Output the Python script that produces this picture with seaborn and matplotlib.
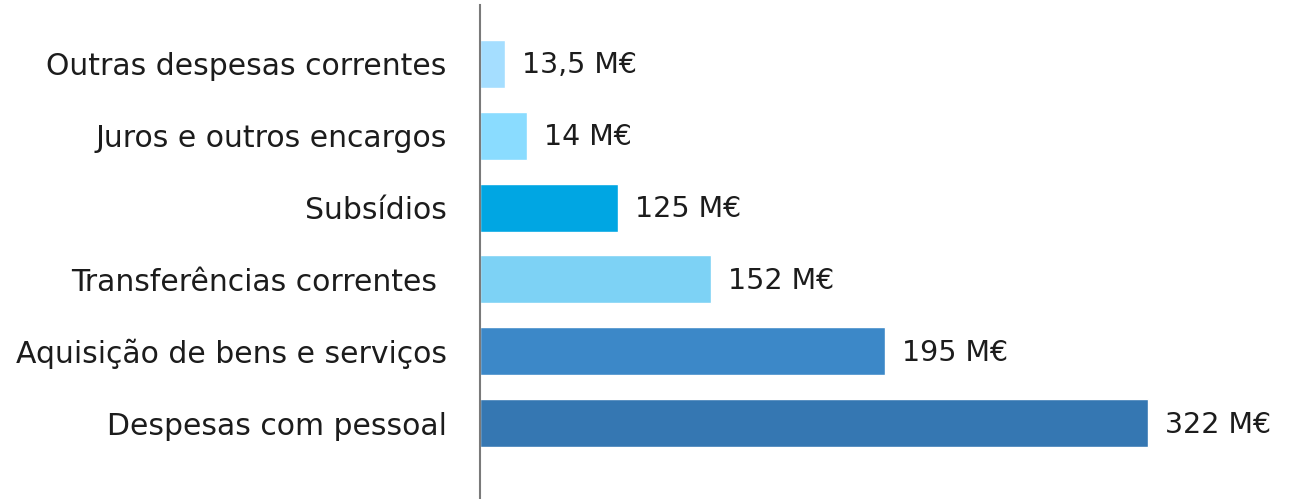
import matplotlib
matplotlib.use("Agg")
import matplotlib.pyplot as plt
import seaborn as sns
import pandas as pd

categories = ["Outras despesas correntes", "Juros e outros encargos", "Subsídios",
              "Transferências correntes ", "Aquisição de bens e serviços", "Despesas com pessoal"]
bar_lengths = [12.1, 22.7, 66.5, 111.4, 195.2, 322.0]
value_labels = ["13,5 M€", "14 M€", "125 M€", "152 M€", "195 M€", "322 M€"]
colors = ["#A5DEFF", "#8ADCFF", "#00A6E3", "#7DD2F5", "#3C88C8", "#3577B2"]

sns.set_theme(style="white")
plt.rcParams['font.family'] = ['DejaVu Sans']

df = pd.DataFrame({"cat": categories, "val": bar_lengths})

fig = plt.figure(figsize=(13.01, 4.99), dpi=100)
ax = fig.add_axes([480/1301, 0.0, 821/1301, 494/499])
sns.barplot(data=df, y="cat", x="val", hue="cat", palette=colors, legend=False,
            orient="h", width=0.667, saturation=1, ax=ax)

ax.set_xlim(0, 821/2.0745)
ax.set_ylim(6.056, -0.82)
for s in ["top", "right", "bottom"]:
    ax.spines[s].set_visible(False)
ax.spines["left"].set_color("#7a7a7a")
ax.spines["left"].set_linewidth(1.5)
ax.set_xticks([])
ax.set_xlabel("")
ax.set_ylabel("")
ax.tick_params(axis="y", length=0, pad=24, labelsize=21.5, labelcolor="#1c1c1c")

for i, (v, lab) in enumerate(zip(bar_lengths, value_labels)):
    ax.annotate(lab, xy=(v, i), xytext=(12, -1), textcoords="offset points",
                va="center", ha="left", fontsize=20.5, color="#1c1c1c")

fig.savefig("out.png", dpi=100)
